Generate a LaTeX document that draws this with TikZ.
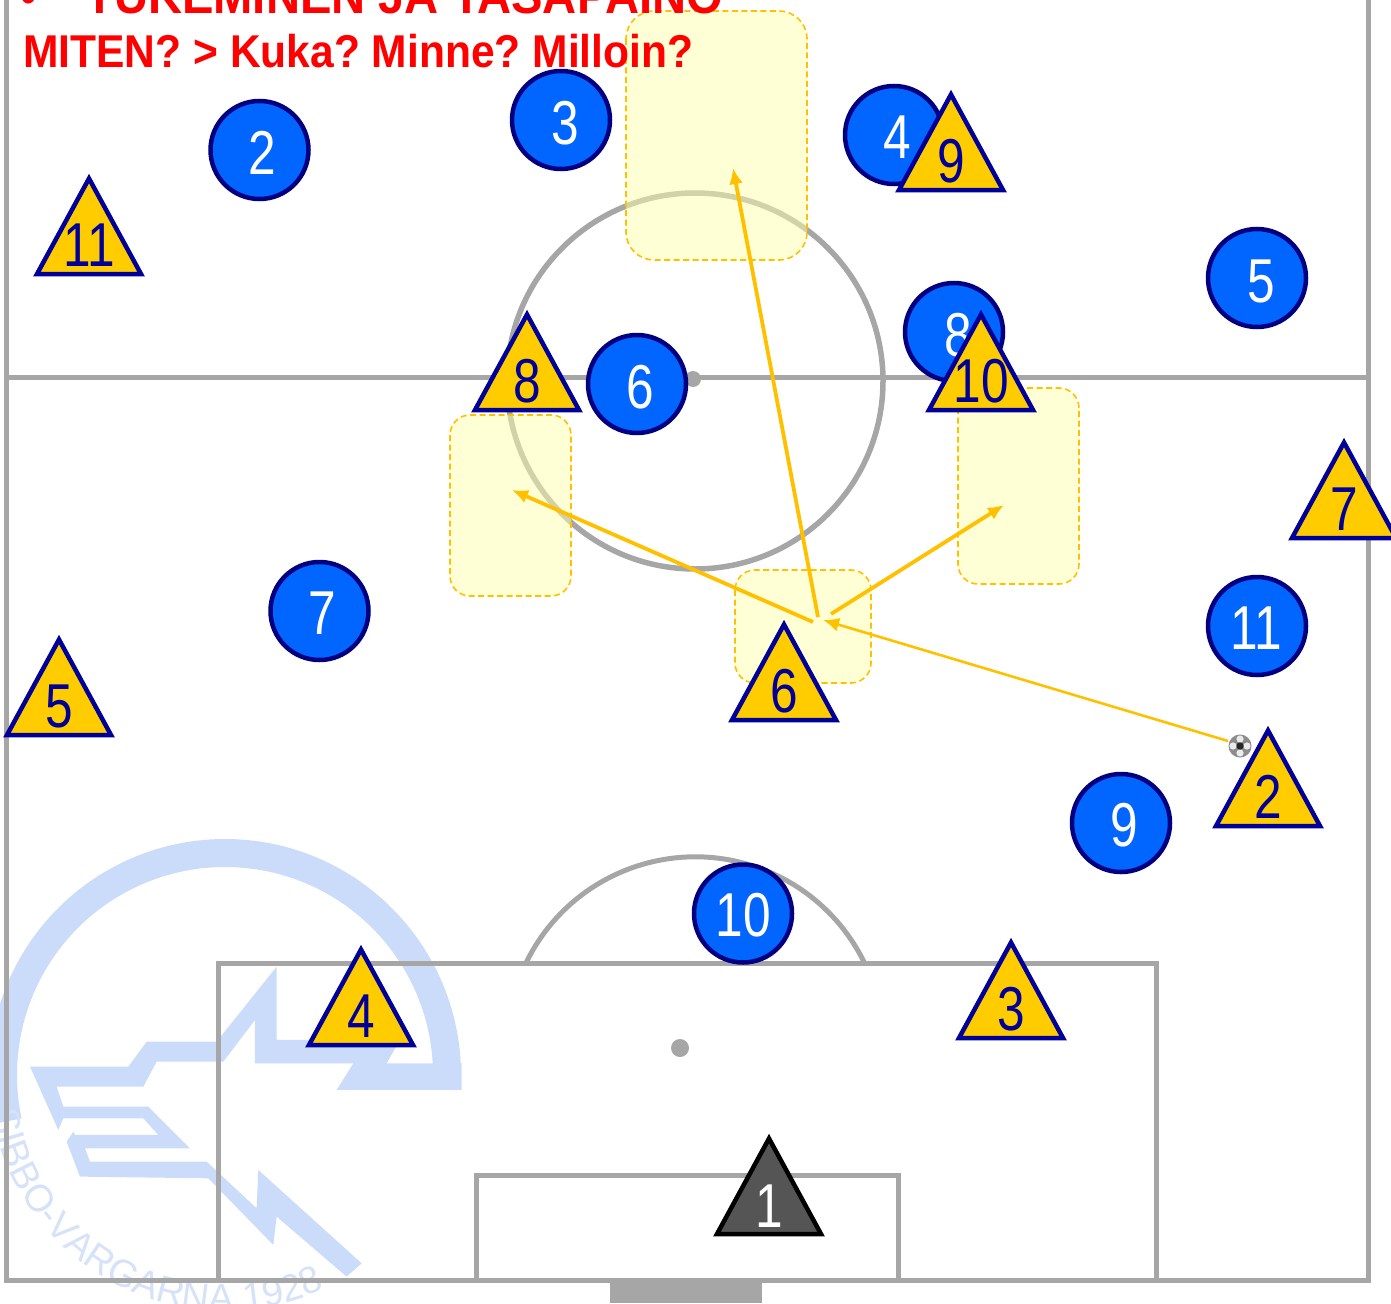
\documentclass[tikz,border=0pt]{standalone}
\usepackage{fontspec}
\setmainfont{Liberation Sans}
\newfontfamily\numfont[FakeStretch=0.8]{Liberation Sans}
\newfontfamily\headfont[FakeStretch=0.925]{Liberation Sans}
\usetikzlibrary{arrows.meta,decorations.text}
\definecolor{pitchline}{HTML}{A6A6A6}
\definecolor{markblue}{HTML}{000099}
\definecolor{discblue}{HTML}{0066FF}
\definecolor{discedge}{HTML}{000080}
\definecolor{trifill}{HTML}{FFCC00}
\definecolor{zoneorange}{HTML}{FFC000}
\definecolor{zonefill}{HTML}{FFFFAB}
\definecolor{crest}{HTML}{CADCF9}
\definecolor{crestword}{HTML}{D5E2F8}
\definecolor{keeper}{HTML}{555555}
\tikzset{
  pitch/.style={draw=pitchline,line width=5pt,line join=miter},
  zone/.style={draw=zoneorange,fill=zonefill,fill opacity=0.5,line width=1.6pt,dash pattern=on 6pt off 3.5pt},
  run/.style={draw=zoneorange,line width=3.8pt,-{Latex[length=16pt,width=14pt]}},
  pass/.style={draw=zoneorange,line width=2.6pt,-{Latex[length=16pt,width=14pt]}},
  disc/.style={circle,draw=discedge,fill=discblue,line width=4.5pt,minimum size=98pt,inner sep=0pt,outer sep=0pt},
  tribody/.style={draw=markblue,fill=trifill,line width=4.5pt,line join=miter,miter limit=10},
  num/.style={inner sep=0pt,outer sep=0pt,font=\numfont\fontsize{62}{62}\selectfont},
  head/.style={anchor=base west,inner sep=0pt,text=red,font=\headfont\bfseries\fontsize{46}{46}\selectfont},
  headbig/.style={head,font=\headfont\bfseries\fontsize{51}{51}\selectfont},
}
% triangle player: name, x of apex, y of apex, number
\newcommand{\triplayer}[4]{%
  \path[tribody] ({#2},{#3+2.5}) -- ({#2+52},{#3+98}) -- ({#2-52},{#3+98}) -- cycle;
  \node[num,text=markblue] (t#1) at ({#2},{#3+69}) {#4};
}
% disc player: name, x, y, number, x of number, y of number
\newcommand{\discplayer}[6]{%
  \node[disc] (d#1) at ({#2},{#3}) {};
  \node[num,text=white] (n#1) at ({#5},{#6}) {#4};
}
\begin{document}
\frenchspacing
\begin{tikzpicture}[x=1pt,y=-1pt]
\useasboundingbox (0,0) rectangle (1391,1303);
\clip (0,0) rectangle (1391,1303);
% crest watermark
\begin{scope}[x=0.3333pt,y=-0.3333pt,shift={(0pt,-820pt)}]
\fill[crest] (90,740) -- (385,740) -- (440,665) -- (650,665) -- (830,440) -- (830,660)
  -- (1200,660) -- (1160,730) -- (1385,730) -- (1385,810) -- (1010,810) -- (1060,730)
  -- (765,730) -- (765,600) -- (670,725) -- (470,725) -- (430,800) -- (170,800) -- (190,860)
  -- (445,860) -- (570,985) -- (255,985) -- (270,1025) -- (620,1025) -- (770,1165)
  -- (775,1050) -- (1085,1330) -- (1040,1370) -- (830,1190) -- (820,1275) -- (625,1075)
  -- (240,1070) -- (200,965) -- (220,935) -- (225,945) -- (475,945) -- (430,895)
  -- (190,895) -- (175,930) -- cycle;
\end{scope}
\draw[crest,line width=28pt] (225,1075) ++(-1:222pt) arc[start angle=-1,end angle=192,radius=222pt];
\path[decorate,decoration={text along path,text={|\fontsize{38}{38}\selectfont\color{crestword}|SIBBO-VARGARNA 1928},text align=left}]
  (225,1075) ++(189:236pt) arc[start angle=189,end angle=303,radius=236pt];
% pitch
\draw[pitch] (6,-10) -- (6,1280) -- (1368,1280) -- (1368,-10);
\draw[pitch] (6,377) -- (1368,377);
\draw[pitch] (218,1280) -- (218,963) -- (1156,963) -- (1156,1280);
\draw[pitch] (476,1280) -- (476,1175) -- (898,1175) -- (898,1280);
\draw[pitch,line width=5.5pt] (695,381) circle[radius=188pt];
\draw[pitch] (526,963) arc[start angle=154.2,end angle=25.8,radius=188pt];
\fill[pitchline] (693,379) circle[radius=8pt];
\fill[pitchline] (680,1048) circle[radius=9pt];
\fill[pitchline] (610,1280) rectangle (762,1303);
% zones
\draw[zone,rounded corners=28pt] (626,11) rectangle (807,260);
\draw[zone,rounded corners=20pt] (450,415) rectangle (571,596);
\draw[zone,rounded corners=20pt] (958,388) rectangle (1079,584);
\draw[zone,rounded corners=20pt] (735,570) rectangle (871,683);
% heading
\node[headbig] (h1) at (20,14) {•};
\node[headbig] (h2) at (85,14) {TUKEMINEN JA TASAPAINO};
\node[head] (h3) at (23,68) {MITEN? > Kuka? Minne? Milloin?};
% arrows
\coordinate (r1s) at (813,622); \coordinate (r1e) at (512,490);
\coordinate (r2s) at (818,617); \coordinate (r2e) at (733,168);
\coordinate (r3s) at (831,614); \coordinate (r3e) at (1004,505);
\coordinate (p1s) at (1228,741); \coordinate (p1e) at (823,620);
\draw[run] (r1s) -- (r1e);
\draw[run] (r2s) -- (r2e);
\draw[run] (r3s) -- (r3e);
\draw[pass] (p1s) -- (p1e);
% ball
\fill[black!45] (1240,746) circle[radius=11.5pt];
\foreach \a in {0,90,180,270}{\fill[black!8] (1240,746) ++(\a:7pt) circle[radius=3.6pt];}
\fill[black!85] (1240,746) circle[radius=3.6pt];
% players
\discplayer{2}{259.5}{150}{2}{262.5}{153}
\discplayer{3}{561}{120}{3}{565}{123}
\discplayer{4}{894}{135}{4}{897.5}{137}
\discplayer{5}{1257}{278}{5}{1261}{281}
\discplayer{6}{637}{384}{6}{640}{387}
\discplayer{7}{319.5}{611}{7}{322.5}{613}
\discplayer{8}{954}{332}{8}{958}{335}
\discplayer{9}{1121}{823}{9}{1124.5}{825}
\discplayer{10}{743}{913.5}{10}{743.5}{915}
\discplayer{11}{1257}{626}{11}{1256.5}{628}
\triplayer{11}{89}{176}{11}
\triplayer{8}{527}{312}{8}
\triplayer{9}{951}{92}{9}
\triplayer{10}{981}{312}{10}
\triplayer{7}{1344}{440}{7}
\triplayer{6}{784}{622}{6}
\triplayer{5}{59}{637}{5}
\triplayer{2}{1268}{728}{2}
\triplayer{4}{361}{947}{4}
\triplayer{3}{1011}{940}{3}
\path[tribody,draw=black,fill=keeper] (769,1138.5) -- (821,1234) -- (717,1234) -- cycle;
\node[num,text=white] (t1) at (769,1206) {1};
\end{tikzpicture}
\end{document}
